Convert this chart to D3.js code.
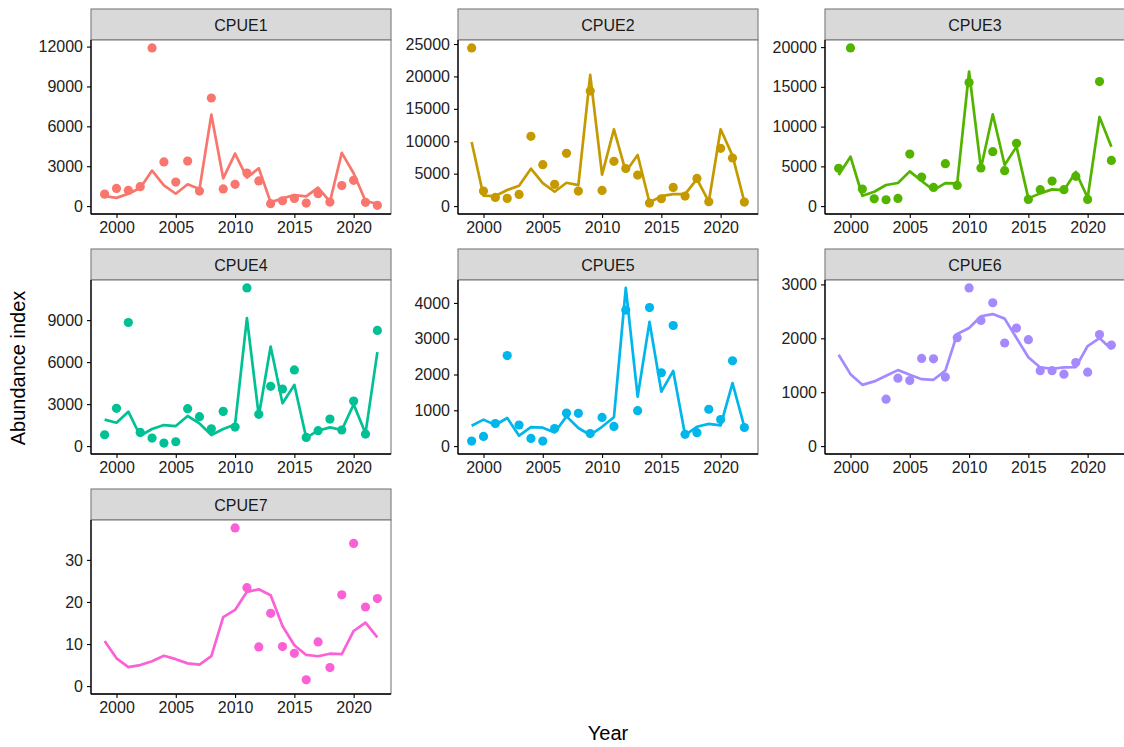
<!DOCTYPE html>
<html>
<head>
<meta charset="utf-8">
<script src="https://cdn.jsdelivr.net/npm/d3@7/dist/d3.min.js"></script>
<style>
  html, body { margin: 0; padding: 0; background: #fff; }
  svg text { font-family: "Liberation Sans", Arial, sans-serif; }
</style>
</head>
<body>
<svg id="chart" width="1124" height="747"></svg>
<script>
// Survey years shared by every index
const years = d3.range(1999, 2023);

const seriesNames = ["CPUE1", "CPUE2", "CPUE3", "CPUE4", "CPUE5", "CPUE6", "CPUE7"];
const seriesColors = ["#F8766D", "#C49A00", "#53B400", "#00C094", "#00B6EB", "#A58AFF", "#FB61D7"];

// Observed CPUE values (null = no observation that year)
const obs1 = [900, 1330, 1180, 1460, 11900, 3320, 1810, 3390, 1130, 8130, 1290, 1640, 2490, 1890, 180, 400, 580, 230, 930, 300, 1540, 1940, 280, 60];
const obs2 = [24400, 2320, 1340, 1190, 1800, 10760, 6390, 3350, 8140, 2320, 17770, 2420, 6900, 5800, 4790, 460, 1130, 2880, 1550, 4270, 670, 8910, 7420, 620];
const obs3 = [4750, 19900, 2140, 920, 800, 970, 6550, 3650, 2350, 5330, 2600, 15540, 4790, 6850, 4450, 7900, 840, 2060, 3150, 2060, 3740, 840, 15670, 5750];
const obs4 = [810, 2700, 8830, 980, 570, 215, 310, 2670, 2100, 1240, 2480, 1360, 11300, 2270, 4270, 4080, 5440, 620, 1100, 1930, 1150, 3220, 860, 8260];
const obs5 = [140, 270, 630, 2530, 590, 215, 140, 490, 925, 915, 350, 800, 550, 3800, 990, 3870, 2050, 3370, 330, 375, 1030, 740, 2385, 520];
const obs6 = [null, null, null, null, 870, 1260, 1217, 1627, 1620, 1280, 2012, 2935, 2330, 2660, 1913, 2190, 1975, 1400, 1400, 1335, 1550, 1372, 2070, 1875];
const obs7 = [null, null, null, null, null, null, null, null, null, null, null, 37.6, 23.4, 9.3, 17.3, 9.4, 7.8, 1.5, 10.5, 4.4, 21.7, 33.9, 18.8, 20.8];

// Fitted abundance index per series
const fit1 = [750, 620, 930, 1360, 2670, 1560, 930, 1640, 1290, 6880, 2090, 3950, 2140, 2850, 280, 580, 830, 730, 1390, 330, 4000, 2470, 380, 180];
const fit2 = [9890, 1600, 1550, 2470, 3140, 5770, 3550, 2210, 3600, 3240, 20240, 4840, 11850, 5300, 7880, 560, 1545, 1850, 1850, 4170, 670, 11850, 7780, 670];
const fit3 = [3900, 6220, 1300, 1800, 2650, 2900, 4370, 3150, 2000, 2900, 2850, 16930, 4750, 11550, 5170, 7480, 970, 1600, 2100, 2000, 4300, 1050, 11210, 7480];
const fit4 = [1890, 1670, 2460, 740, 1220, 1500, 1430, 2150, 1620, 790, 1220, 1550, 9140, 2170, 7110, 3060, 4370, 600, 1100, 1340, 1150, 2980, 910, 6710];
const fit5 = [570, 740, 590, 785, 290, 530, 515, 380, 830, 505, 310, 540, 805, 4420, 1380, 3470, 1520, 2100, 310, 540, 620, 580, 1760, 540];
const fit6 = [1695, 1335, 1136, 1200, 1305, 1410, 1323, 1242, 1230, 1400, 2080, 2190, 2410, 2450, 2365, 2005, 1650, 1460, 1435, 1460, 1465, 1857, 2005, 1795];
const fit7 = [10.7, 6.6, 4.5, 5.0, 5.9, 7.2, 6.4, 5.4, 5.1, 7.1, 16.4, 18.1, 22.4, 23.0, 21.6, 14.3, 9.7, 7.4, 7.1, 7.7, 7.6, 13.1, 15.1, 11.6];

// Axis tick labels
const xTicks = [2000, 2005, 2010, 2015, 2020];
const yTicks1 = [0, 3000, 6000, 9000, 12000];
const yTicks2 = [0, 5000, 10000, 15000, 20000, 25000];
const yTicks3 = [0, 5000, 10000, 15000, 20000];
const yTicks4 = [0, 3000, 6000, 9000];
const yTicks5 = [0, 1000, 2000, 3000, 4000];
const yTicks6 = [0, 1000, 2000, 3000];
const yTicks7 = [0, 10, 20, 30];

const observed = [obs1, obs2, obs3, obs4, obs5, obs6, obs7];
const fitted = [fit1, fit2, fit3, fit4, fit5, fit6, fit7];
const yTickSets = [yTicks1, yTicks2, yTicks3, yTicks4, yTicks5, yTicks6, yTicks7];

const svg = d3.select("#chart");

// Facet grid geometry
const panelW = 300, panelH = 174, stripH = 31;
const colStep = 367, rowStep = 240;
const firstLeft = 91, firstTop = 40;

const xDomain = [1999 - 0.05 * 23, 2022 + 0.05 * 23];

seriesNames.forEach((name, i) => {
  const col = i % 3, row = Math.floor(i / 3);
  const left = firstLeft + col * colStep;
  const top = firstTop + row * rowStep;
  const color = seriesColors[i];

  const obs = observed[i], fit = fitted[i];
  const ymax = d3.max([d3.max(obs.filter(v => v != null)), d3.max(fit)]);
  const ymin = 0;
  const pad = 0.05 * (ymax - ymin);

  const x = d3.scaleLinear().domain(xDomain).range([0, panelW]);
  const y = d3.scaleLinear().domain([ymin - pad, ymax + pad]).range([panelH, 0]);

  const g = svg.append("g").attr("transform", `translate(${left},${top})`);

  // strip
  g.append("rect")
    .attr("x", 0).attr("y", -stripH)
    .attr("width", panelW).attr("height", stripH)
    .attr("fill", "#D9D9D9").attr("stroke", "#7a7a7a").attr("stroke-width", 1.1);
  g.append("text")
    .attr("x", panelW / 2).attr("y", -stripH / 2 + 1)
    .attr("text-anchor", "middle").attr("dominant-baseline", "central")
    .attr("font-size", 16).attr("fill", "#1a1a1a")
    .text(name);

  // panel background and border
  g.append("rect")
    .attr("x", 0).attr("y", 0)
    .attr("width", panelW).attr("height", panelH)
    .attr("fill", "#fff").attr("stroke", "#7a7a7a").attr("stroke-width", 1.1);

  const clipId = "clip" + i;
  g.append("clipPath").attr("id", clipId)
    .append("rect").attr("x", 0).attr("y", 0).attr("width", panelW).attr("height", panelH);

  const plot = g.append("g").attr("clip-path", `url(#${clipId})`);

  // observed points
  plot.selectAll("circle")
    .data(years.map((yr, k) => ({ yr, v: obs[k] })).filter(d => d.v != null))
    .join("circle")
    .attr("cx", d => x(d.yr))
    .attr("cy", d => y(d.v))
    .attr("r", 4.6)
    .attr("fill", color);

  // fitted index
  const line = d3.line().x(d => x(d.yr)).y(d => y(d.v));
  plot.append("path")
    .datum(years.map((yr, k) => ({ yr, v: fit[k] })))
    .attr("d", line)
    .attr("fill", "none")
    .attr("stroke", color)
    .attr("stroke-width", 2.7)
    .attr("stroke-linejoin", "round");

  // axes
  const xAxis = d3.axisBottom(x).tickValues(xTicks).tickFormat(d3.format("d")).tickSize(4).tickPadding(4);
  const yAxis = d3.axisLeft(y).tickValues(yTickSets[i]).tickFormat(d3.format("d")).tickSize(4).tickPadding(4);

  const gx = g.append("g").attr("transform", `translate(0,${panelH})`).call(xAxis);
  const gy = g.append("g").call(yAxis);

  [gx, gy].forEach(ax => {
    ax.select(".domain").attr("stroke", "#000").attr("stroke-width", 1.3);
    ax.selectAll(".tick line").attr("stroke", "#000").attr("stroke-width", 1.1);
    ax.selectAll(".tick text").attr("font-size", 16).attr("fill", "#222")
      .attr("font-family", "Liberation Sans, Arial, sans-serif");
  });
  gx.select(".domain").attr("d", `M0,0H${panelW}`);
  gy.select(".domain").attr("d", `M0,0V${panelH}`);
});

// axis titles
svg.append("text")
  .attr("x", 608).attr("y", 740)
  .attr("text-anchor", "middle")
  .attr("font-size", 20).attr("fill", "#000")
  .text("Year");

svg.append("text")
  .attr("transform", "translate(25,368) rotate(-90)")
  .attr("text-anchor", "middle")
  .attr("font-size", 20).attr("fill", "#000")
  .text("Abundance index");
</script>
</body>
</html>
